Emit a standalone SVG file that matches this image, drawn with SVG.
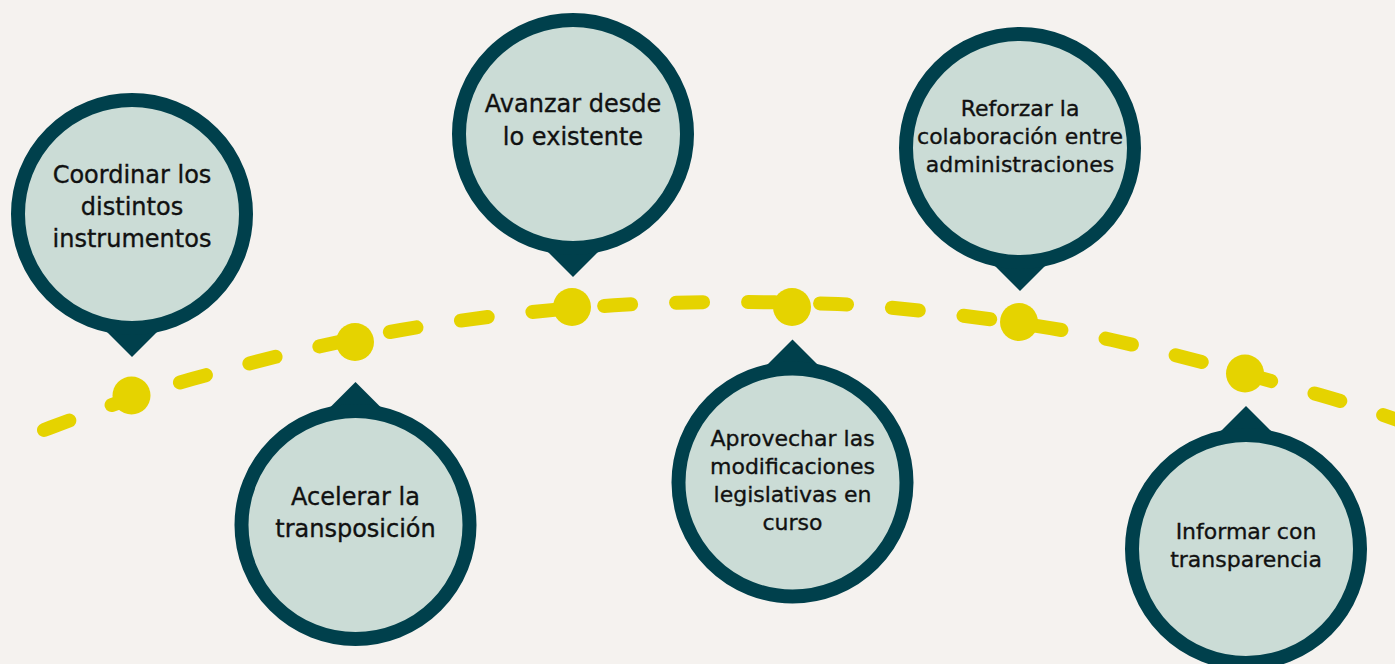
<svg xmlns="http://www.w3.org/2000/svg" width="1395" height="664" viewBox="0 0 1395 664">
  <style>
    .bg { fill: #f5f2ef; }
    .line { fill: none; stroke: #e5d300; stroke-width: 14; stroke-linecap: round; stroke-dasharray: 27 45; }
    .dot { fill: #e5d300; }
    .pin { fill: #00404c; }
    .bubble { fill: #cbdcd6; stroke: #00404c; stroke-width: 14; }
    .lbl { font-family: "DejaVu Sans", "Liberation Sans", sans-serif; fill: #111111; stroke: #111111; stroke-width: 0.35; text-anchor: middle; }
    .lg { font-size: 24px; }
    .sm { font-size: 22px; }
  </style>
  <rect class="bg" x="0" y="0" width="1395" height="664"/>

  <g id="connectors">
    <path class="line" d="M44,430 C93.33,411.5 142.67,392.81 192,379 C261.67,359.49 331.33,342.16 401,330 C472,317.6 543,309.66 614,305.3 C685.67,300.9 757.33,301.41 829,303.7 C876.33,305.21 923.67,310.64 971,316.7 C1018,322.72 1065,329.47 1112,340 C1181.33,355.53 1250.67,375.17 1320,395 C1353.33,404.53 1386.67,416 1420,428"/>
    <circle class="dot" cx="131.5" cy="395.5" r="19"/>
    <circle class="dot" cx="355" cy="342" r="19"/>
    <circle class="dot" cx="572" cy="307" r="19"/>
    <circle class="dot" cx="792" cy="307" r="19"/>
    <circle class="dot" cx="1019" cy="322" r="19"/>
    <circle class="dot" cx="1245" cy="373.5" r="19"/>
  </g>

  <g id="node-coordinar">
    <path class="pin" d="M132,357 L87,312 L177,312 Z"/>
    <circle class="bubble" cx="132" cy="214" r="114"/>
    <text class="lbl lg"><tspan x="132" y="183.3">Coordinar los</tspan><tspan x="132" y="215">distintos</tspan><tspan x="132" y="246.7">instrumentos</tspan></text>
  </g>

  <g id="node-acelerar">
    <path class="pin" d="M355.5,382 L310.5,427 L400.5,427 Z"/>
    <circle class="bubble" cx="355.5" cy="525" r="114"/>
    <text class="lbl lg"><tspan x="355.5" y="505">Acelerar la</tspan><tspan x="355.5" y="536.7">transposición</tspan></text>
  </g>

  <g id="node-avanzar">
    <path class="pin" d="M573,277 L528,232 L618,232 Z"/>
    <circle class="bubble" cx="573" cy="134" r="114"/>
    <text class="lbl lg"><tspan x="573" y="112.3">Avanzar desde</tspan><tspan x="573" y="145">lo existente</tspan></text>
  </g>

  <g id="node-aprovechar">
    <path class="pin" d="M792.5,339.5 L747.5,384.5 L837.5,384.5 Z"/>
    <circle class="bubble" cx="792.5" cy="482.5" r="114"/>
    <text class="lbl sm"><tspan x="792.5" y="446">Aprovechar las</tspan><tspan x="792.5" y="474.3">modificaciones</tspan><tspan x="792.5" y="502.3">legislativas en</tspan><tspan x="792.5" y="530">curso</tspan></text>
  </g>

  <g id="node-reforzar">
    <path class="pin" d="M1020,291 L975,246 L1065,246 Z"/>
    <circle class="bubble" cx="1020" cy="148" r="114"/>
    <text class="lbl sm"><tspan x="1020" y="115.7">Reforzar la</tspan><tspan x="1020" y="144">colaboración entre</tspan><tspan x="1020" y="172.3">administraciones</tspan></text>
  </g>

  <g id="node-informar">
    <path class="pin" d="M1246,406 L1201,451 L1291,451 Z"/>
    <circle class="bubble" cx="1246" cy="549" r="114"/>
    <text class="lbl sm"><tspan x="1246" y="539.3">Informar con</tspan><tspan x="1246" y="566.7">transparencia</tspan></text>
  </g>
</svg>
